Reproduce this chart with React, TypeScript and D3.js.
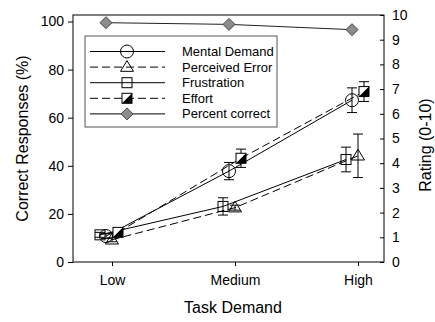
import React from 'react';
import * as d3 from 'd3';

const levels = ['Low', 'Medium', 'High'];
const percentCorrect = [99.5, 98.8, 96.6];
const mentalDemand = [1.05, 3.68, 6.55];
const mentalErr = [0.1, 0.35, 0.5];
const perceivedError = [0.9, 2.2, 4.3];
const perceivedErr = [0.08, 0.1, 0.88];
const frustration = [1.1, 2.25, 4.15];
const frustrationErr = [0.1, 0.35, 0.5];
const effort = [1.2, 4.2, 6.9];
const effortErr = [0.1, 0.37, 0.4];
const leftTicks = [0, 20, 40, 60, 80, 100];
const rightTicks = [0, 1, 2, 3, 4, 5, 6, 7, 8, 9, 10];

const FONT = '"Liberation Sans", Arial, sans-serif';

const App: React.FC = () => {
  const svgRef = React.useRef<SVGSVGElement>(null);

  React.useEffect(() => {
    if (!svgRef.current) return;
    const svg = d3.select(svgRef.current);
    svg.selectAll('*').remove();

    const left = 73, right = 384, top = 15, bottom = 262;

    const x = d3.scalePoint<string>().domain(levels).range([112, 358]);
    const yL = d3.scaleLinear().domain([0, 100]).range([bottom, 21.5]);
    const yR = d3.scaleLinear().domain([0, 10]).range([bottom, top]);

    // frame
    svg.append('rect')
      .attr('x', left).attr('y', top)
      .attr('width', right - left).attr('height', bottom - top)
      .attr('fill', 'none').attr('stroke', '#000').attr('stroke-width', 1);

    // left axis
    const gl = svg.append('g').attr('transform', `translate(${left},0)`)
      .call(d3.axisLeft(yL).tickValues(leftTicks).tickSize(5).tickPadding(4));
    gl.select('.domain').remove();
    gl.selectAll('text').style('font-family', FONT).style('font-size', '14px').style('fill', '#000');

    // right axis, ticks inward
    const gr = svg.append('g').attr('transform', `translate(${right},0)`)
      .call(d3.axisRight(yR).tickValues(rightTicks).tickSize(-4).tickPadding(8));
    gr.select('.domain').remove();
    gr.selectAll('text').style('font-family', FONT).style('font-size', '14px').style('fill', '#000');

    // bottom axis
    const gb = svg.append('g').attr('transform', `translate(0,${bottom})`)
      .call(d3.axisBottom(x).tickSize(4).tickPadding(9));
    gb.select('.domain').remove();
    gb.selectAll('text').style('font-family', FONT).style('font-size', '14px').style('fill', '#000');

    // axis titles
    svg.append('text')
      .attr('transform', `translate(28,${(top + bottom) / 2}) rotate(-90)`)
      .attr('text-anchor', 'middle')
      .style('font-family', FONT).style('font-size', '16px')
      .text('Correct Responses (%)');
    svg.append('text')
      .attr('transform', `translate(431,${145}) rotate(-90)`)
      .attr('text-anchor', 'middle')
      .style('font-family', FONT).style('font-size', '16px')
      .text('Rating (0-10)');
    svg.append('text')
      .attr('x', 233).attr('y', 313)
      .attr('text-anchor', 'middle')
      .style('font-family', FONT).style('font-size', '16px')
      .text('Task Demand');

    const drawMarker = (g: d3.Selection<SVGGElement, unknown, null, undefined>, kind: string, cx: number, cy: number) => {
      if (kind === 'circle') {
        g.append('circle').attr('cx', cx).attr('cy', cy).attr('r', 6.5)
          .attr('fill', 'none').attr('stroke', '#000');
      } else if (kind === 'triangle') {
        const s = 6.5;
        g.append('path')
          .attr('d', `M${cx},${cy - s}L${cx + s},${cy + s * 0.65}L${cx - s},${cy + s * 0.65}Z`)
          .attr('fill', 'none').attr('stroke', '#000');
      } else if (kind === 'square') {
        g.append('rect').attr('x', cx - 5).attr('y', cy - 5).attr('width', 10).attr('height', 10)
          .attr('fill', 'none').attr('stroke', '#000');
      } else if (kind === 'half') {
        g.append('rect').attr('x', cx - 5).attr('y', cy - 5).attr('width', 10).attr('height', 10)
          .attr('fill', '#fff').attr('stroke', '#000');
        g.append('path')
          .attr('d', `M${cx + 5},${cy - 5}L${cx + 5},${cy + 5}L${cx - 5},${cy + 5}Z`)
          .attr('fill', '#000');
      } else if (kind === 'diamond') {
        const s = 6;
        g.append('path')
          .attr('d', `M${cx},${cy - s}L${cx + s},${cy}L${cx},${cy + s}L${cx - s},${cy}Z`)
          .attr('fill', '#8c8c8c').attr('stroke', '#444');
      }
    };

    const series = [
      { name: 'Frustration', vals: frustration, err: frustrationErr, kind: 'square', dash: null as string | null, dx: -12 },
      { name: 'Mental Demand', vals: mentalDemand, err: mentalErr, kind: 'circle', dash: null, dx: -6 },
      { name: 'Perceived Error', vals: perceivedError, err: perceivedErr, kind: 'triangle', dash: '8,4', dx: 0 },
      { name: 'Effort', vals: effort, err: effortErr, kind: 'half', dash: '8,4', dx: 6 },
    ];

    const line = d3.line<[number, number]>();

    series.forEach(s => {
      const g = svg.append('g');
      const pts: [number, number][] = s.vals.map((v, i) => [x(levels[i])! + s.dx, yR(v)]);
      g.append('path').attr('d', line(pts)!)
        .attr('fill', 'none').attr('stroke', '#000').attr('stroke-width', 1)
        .attr('stroke-dasharray', s.dash ?? null);
      s.vals.forEach((v, i) => {
        const cx = x(levels[i])! + s.dx;
        const y0 = yR(v + s.err[i]);
        const y1 = yR(v - s.err[i]);
        g.append('line').attr('x1', cx).attr('x2', cx).attr('y1', y0).attr('y2', y1).attr('stroke', '#000');
        [y0, y1].forEach(yy => g.append('line')
          .attr('x1', cx - 5).attr('x2', cx + 5).attr('y1', yy).attr('y2', yy).attr('stroke', '#000'));
      });
      s.vals.forEach((v, i) => drawMarker(g, s.kind, x(levels[i])! + s.dx, yR(v)));
    });

    // percent correct
    const gp = svg.append('g');
    const pp: [number, number][] = percentCorrect.map((v, i) => [x(levels[i])! - 6, yL(v)]);
    gp.append('path').attr('d', line(pp)!).attr('fill', 'none').attr('stroke', '#222');
    pp.forEach(p => drawMarker(gp, 'diamond', p[0], p[1]));

    // legend
    const lg = svg.append('g');
    lg.append('rect').attr('x', 85).attr('y', 36).attr('width', 192).attr('height', 91)
      .attr('fill', '#fff').attr('stroke', '#555');
    const legendItems = [
      { name: 'Mental Demand', kind: 'circle', dash: null as string | null },
      { name: 'Perceived Error', kind: 'triangle', dash: '8,4' },
      { name: 'Frustration', kind: 'square', dash: null },
      { name: 'Effort', kind: 'half', dash: '8,4' },
      { name: 'Percent correct', kind: 'diamond', dash: null },
    ];
    legendItems.forEach((it, i) => {
      const yy = 51.5 + i * 15.6;
      lg.append('line').attr('x1', 90).attr('x2', 165).attr('y1', yy).attr('y2', yy)
        .attr('stroke', '#000').attr('stroke-dasharray', it.dash ?? null);
      drawMarker(lg, it.kind, 127, yy);
      lg.append('text').attr('x', 182).attr('y', yy + 4.5)
        .style('font-family', FONT).style('font-size', '13px')
        .text(it.name);
    });
  }, []);

  return (
    <svg ref={svgRef} width={435} height={322} viewBox="0 0 435 322"
      style={{ position: 'absolute', left: 0, top: 0, background: '#fff' }} />
  );
};

export default App;
